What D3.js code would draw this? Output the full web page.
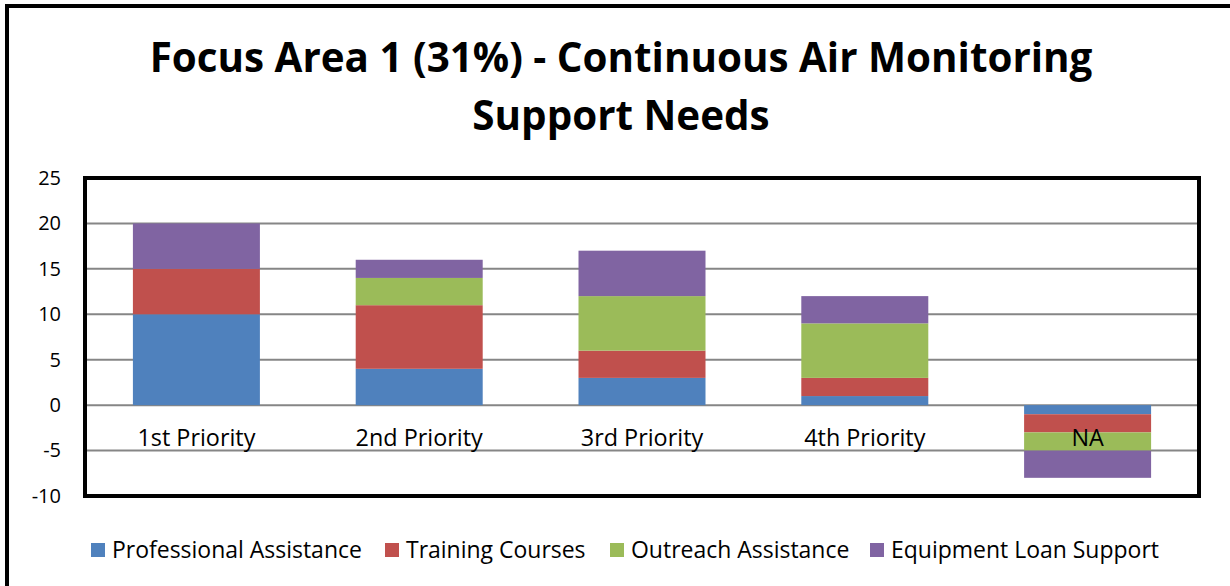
<!DOCTYPE html>
<html>
<head>
  <meta charset="utf-8">
  <title>Focus Area 1 - Continuous Air Monitoring Support Needs</title>
  <style>
  body { margin: 0; background: #fff; }
  text { font-family: "Open Sans", Lato, sans-serif; fill: #000; }
  .grid line { stroke: #868686; stroke-width: 2; }
  </style>
</head>
<body>
  <div id="chart"></div>
  <script src="https://d3js.org/d3.v7.min.js"></script>
  <script>
    var width = 1230, height = 586;

    var categories = ["1st Priority", "2nd Priority", "3rd Priority", "4th Priority", "NA"];
    var seriesNames = ["Professional Assistance", "Training Courses", "Outreach Assistance", "Equipment Loan Support"];
    var professional = [10, 4, 3, 1, -1];
    var training = [5, 7, 3, 2, -2];
    var outreach = [0, 3, 6, 6, -2];
    var equipment = [5, 2, 5, 3, -3];
    var yTicks = [-10, -5, 0, 5, 10, 15, 20, 25];
    var colors = ["#4F81BD", "#C0504D", "#9BBB59", "#8064A2"];

    var values = [professional, training, outreach, equipment];
    var rows = categories.map(function(c, i) {
      var r = {cat: c};
      seriesNames.forEach(function(s, j) { r[s] = values[j][i]; });
      return r;
    });

    // scale font size so a text gets roughly the width it has in the original
    function fitSize(sel, target) {
      var base = +sel.attr("font-size");
      var w = sel.node().getComputedTextLength();
      sel.attr("font-size", (base * target / w).toFixed(2));
    }

    var svg = d3.select("#chart").append("svg")
        .attr("width", width).attr("height", height);

    // outer chart frame (cropped)
    svg.append("rect")
        .attr("x", 7).attr("y", 6)
        .attr("width", 1240).attr("height", 600)
        .attr("fill", "none").attr("stroke", "#000").attr("stroke-width", 4);

    var t1 = svg.append("text")
        .attr("x", 621).attr("y", 72)
        .attr("text-anchor", "middle")
        .attr("font-weight", "bold")
        .attr("font-size", 40)
        .text("Focus Area 1 (31%) - Continuous Air Monitoring");
    fitSize(t1, 943);
    svg.append("text")
        .attr("x", 621).attr("y", 130)
        .attr("text-anchor", "middle")
        .attr("font-weight", "bold")
        .attr("font-size", t1.attr("font-size"))
        .text("Support Needs");

    var plot = {left: 85, right: 1199, top: 178, bottom: 496};

    var x = d3.scaleBand()
        .domain(categories)
        .range([plot.left, plot.right])
        .paddingInner(0.43).paddingOuter(0.215);

    var y = d3.scaleLinear()
        .domain([-10, 25])
        .range([plot.bottom, plot.top]);

    svg.append("g")
        .attr("class", "grid")
      .selectAll("line")
      .data(yTicks.filter(function(d) { return d > -10 && d < 25; }))
      .enter().append("line")
        .attr("x1", plot.left).attr("x2", plot.right)
        .attr("y1", function(d) { return y(d); })
        .attr("y2", function(d) { return y(d); });

    var stack = d3.stack()
        .keys(seriesNames)
        .offset(d3.stackOffsetDiverging);

    svg.append("g")
      .selectAll("g")
      .data(stack(rows))
      .enter().append("g")
        .attr("fill", function(d, i) { return colors[i]; })
      .selectAll("rect")
      .data(function(d) { return d; })
      .enter().append("rect")
        .attr("x", function(d) { return x(d.data.cat); })
        .attr("width", x.bandwidth())
        .attr("y", function(d) { return y(d[1]); })
        .attr("height", function(d) { return y(d[0]) - y(d[1]); });

    // y axis labels
    var yAxis = svg.append("g")
        .attr("transform", "translate(" + (plot.left - 24) + ",0)")
        .call(d3.axisLeft(y).tickValues(yTicks).tickSize(0).tickPadding(0)
          .tickFormat(function(d) { return String(d); }));
    yAxis.select(".domain").remove();
    yAxis.selectAll("text")
        .attr("font-size", 20)
        .attr("font-family", "\"Open Sans\", sans-serif")
        .attr("fill", "#000");

    // category labels just under the zero line
    var catText = svg.append("g")
      .selectAll("text")
      .data(categories)
      .enter().append("text")
        .attr("x", function(d) { return x(d) + x.bandwidth() / 2; })
        .attr("y", y(0) + 41)
        .attr("text-anchor", "middle")
        .attr("font-size", 20)
        .text(function(d) { return d; });
    var cs = +catText.attr("font-size") * 118 / catText.node().getComputedTextLength();
    catText.attr("font-size", cs.toFixed(2));

    // plot frame
    svg.append("rect")
        .attr("x", plot.left).attr("y", plot.top)
        .attr("width", plot.right - plot.left).attr("height", plot.bottom - plot.top)
        .attr("fill", "none").attr("stroke", "#000").attr("stroke-width", 4);

    // legend
    var legendX = [91, 385, 610, 870];
    var legend = svg.append("g")
      .selectAll("g")
      .data(seriesNames)
      .enter().append("g")
        .attr("transform", function(d, i) { return "translate(" + legendX[i] + ",550)"; });
    legend.append("rect")
        .attr("y", -7).attr("width", 14).attr("height", 14)
        .attr("fill", function(d, i) { return colors[i]; });
    var legText = legend.append("text")
        .attr("x", 21).attr("y", 8)
        .attr("font-size", 20)
        .text(function(d) { return d; });
    var ls = +legText.attr("font-size") * 250 / legText.node().getComputedTextLength();
    legText.attr("font-size", ls.toFixed(2));
  </script>
</body>
</html>
